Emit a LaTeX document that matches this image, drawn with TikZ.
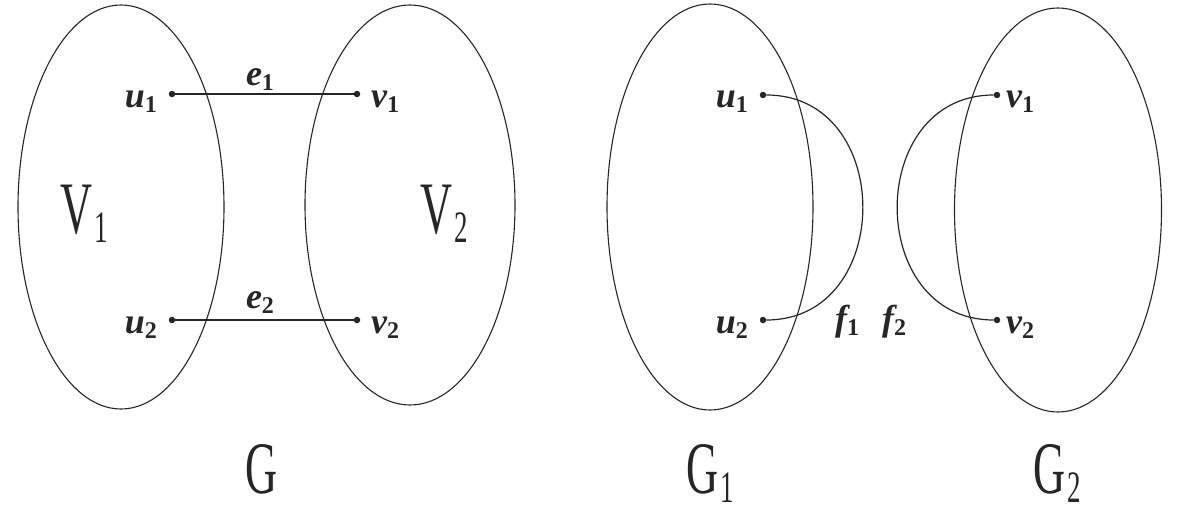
\documentclass[tikz,border=0pt]{standalone}
\usepackage{fontspec}
\setmainfont{Liberation Serif}
\usetikzlibrary{shapes.geometric}
\newcommand{\vlab}[2]{{\fontsize{36}{38}\selectfont\bfseries\itshape #1}\raisebox{-5pt}{\fontsize{24}{26}\selectfont\bfseries #2}}
\newcommand{\biglab}[2]{\scalebox{0.6}[1]{\fontsize{74}{74}\selectfont #1\kern3pt\raisebox{-9pt}{\fontsize{45}{45}\selectfont #2}}}
\tikzset{
  setbox/.style={ellipse, draw, line width=1.1pt, inner sep=0pt},
  vdot/.style={circle, fill, inner sep=0pt, minimum size=6.5pt},
  edgeline/.style={line width=1.2pt},
  lbl/.style={inner sep=0pt},
}
\begin{document}
\begin{tikzpicture}[x=1pt,y=-1pt,color=black!85]
\useasboundingbox (0,0) rectangle (1181,506);
% ellipses
\node[setbox, minimum width=206pt, minimum height=404pt] (A) at (121,207) {};
\node[setbox, minimum width=210pt, minimum height=400pt] (B) at (410,205) {};
\node[setbox, minimum width=206pt, minimum height=406pt] (C) at (710,207) {};
\node[setbox, minimum width=207pt, minimum height=404pt] (D) at (1058,210) {};
% dots left
\node[vdot] (u1) at (172,94) {};
\node[vdot] (v1) at (357,94) {};
\node[vdot] (u2) at (172,320) {};
\node[vdot] (v2) at (357,320) {};
% dots right
\node[vdot] (ru1) at (763,95) {};
\node[vdot] (ru2) at (763,320) {};
\node[vdot] (rv1) at (997,95) {};
\node[vdot] (rv2) at (997,320) {};
% edges
\draw[edgeline] (u1) -- (v1);
\draw[edgeline] (u2) -- (v2);
\draw[edgeline] (ru1) .. controls +(132,0) and +(132,0) .. (ru2);
\draw[edgeline] (rv1) .. controls +(-132,0) and +(-132,0) .. (rv2);
% vertex labels
\node[lbl, anchor=base east] (lu1) at (157,107) {\vlab{u}{1}};
\node[lbl, anchor=base east] (lu2) at (157,333) {\vlab{u}{2}};
\node[lbl, anchor=base west] (lv1) at (371,107) {\vlab{v}{1}};
\node[lbl, anchor=base west] (lv2) at (371,333) {\vlab{v}{2}};
\node[lbl, anchor=base east] (lru1) at (748,107) {\vlab{u}{1}};
\node[lbl, anchor=base east] (lru2) at (748,333) {\vlab{u}{2}};
\node[lbl, anchor=base west] (lrv1) at (1006,107) {\vlab{v}{1}};
\node[lbl, anchor=base west] (lrv2) at (1006,333) {\vlab{v}{2}};
% edge labels
\node[lbl, anchor=base] (e1) at (260,85) {\vlab{e}{1}};
\node[lbl, anchor=base] (e2) at (260,308) {\vlab{e}{2}};
\node[lbl, anchor=base west] (f1) at (835,330) {\vlab{f}{1}};
\node[lbl, anchor=base west] (f2) at (882,330) {\vlab{f}{2}};
% set labels
\node[lbl, anchor=base west] (V1) at (60,233) {\biglab{V}{1}};
\node[lbl, anchor=base west] (V2) at (420,233) {\biglab{V}{2}};
\node[lbl, anchor=base west] (G) at (245,493) {\scalebox{0.6}[1]{\fontsize{74}{74}\selectfont G}};
\node[lbl, anchor=base west] (G1) at (686,493) {\biglab{G}{1}};
\node[lbl, anchor=base west] (G2) at (1033,493) {\biglab{G}{2}};
\end{tikzpicture}
\end{document}
